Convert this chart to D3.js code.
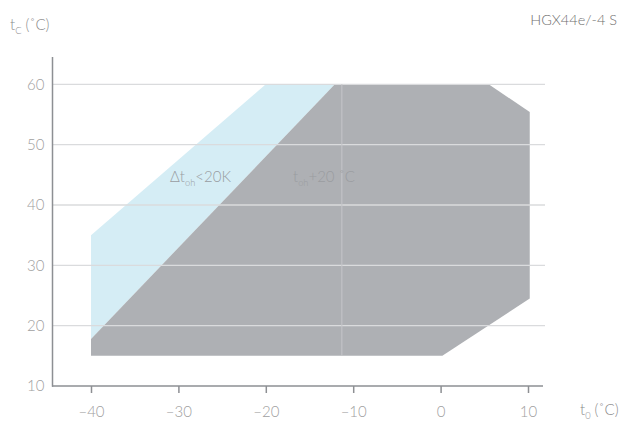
<!DOCTYPE html>
<html><head><meta charset="utf-8">
<script src="https://cdn.jsdelivr.net/npm/d3@7"></script>
<style>
body{margin:0;background:#fff;}
svg{display:block;font-family:Lato,"Open Sans",sans-serif;font-weight:300;}
</style></head>
<body><svg id="c" width="622" height="421"></svg>
<script>
// Data
const xTicks = [-40, -30, -20, -10, 0, 10];
const yTicks = [10, 20, 30, 40, 50, 60];
const blueEnvelope = [[-40, 17.8], [-40, 35], [-20, 60], [-12.1, 60]];
const grayEnvelope = [[-40, 15], [-40, 17.8], [-12.1, 60], [5.5, 60], [10.2, 55.4], [10.2, 24.5], [0.2, 15]];
const dividerX = -11.3;
const dividerY = [15, 60];
const title = "HGX44e/-4 S";

const svg = d3.select("#c");
const x = d3.scaleLinear().domain([-40, 10]).range([91, 528]);
const y = d3.scaleLinear().domain([10, 60]).range([386, 84.3]);

const line = d3.line().x(d => x(d[0])).y(d => y(d[1]));

svg.append("path").attr("d", line(blueEnvelope) + "Z").attr("fill", "#d5edf5");
svg.append("path").attr("d", line(grayEnvelope) + "Z").attr("fill", "#aeb0b4");

// gridlines
svg.append("g").selectAll("line").data(yTicks.filter(d => d > 10)).join("line")
  .attr("x1", 53).attr("x2", 545)
  .attr("y1", d => y(d)).attr("y2", d => y(d))
  .attr("stroke", "#dadbdd").attr("stroke-width", 1.3);

// divider line
svg.append("line")
  .attr("x1", x(dividerX)).attr("x2", x(dividerX))
  .attr("y1", y(dividerY[1])).attr("y2", y(dividerY[0]))
  .attr("stroke", "#c3c5c8").attr("stroke-width", 1.1);

// axes
const xAxis = d3.axisBottom(x).tickValues(xTicks).tickSize(7).tickPadding(13).tickFormat(d => d < 0 ? "\u2013" + Math.abs(d) : d);
const gx = svg.append("g").attr("transform", `translate(0,${y(10)})`).call(xAxis);
gx.select(".domain").remove();
gx.selectAll(".tick line").attr("stroke", "#8d8f93").attr("stroke-width", 1.5);
gx.selectAll(".tick text").attr("fill", "#a0a0a0").attr("font-size", 15).attr("font-family", "Lato, sans-serif").attr("font-weight", 300);

svg.append("line").attr("x1", 52).attr("x2", 543).attr("y1", y(10)).attr("y2", y(10))
  .attr("stroke", "#8d8f93").attr("stroke-width", 1.5);
svg.append("line").attr("x1", 52.5).attr("x2", 52.5).attr("y1", 57).attr("y2", y(10) + 0.75)
  .attr("stroke", "#8d8f93").attr("stroke-width", 1.5);

const yAxis = d3.axisLeft(y).tickValues(yTicks).tickSize(0).tickPadding(8);
const gy = svg.append("g").attr("transform", "translate(52.5,0)").call(yAxis);
gy.select(".domain").remove();
gy.selectAll(".tick text").attr("fill", "#a0a0a0").attr("font-size", 15).attr("font-family", "Lato, sans-serif").attr("font-weight", 300);

// titles
svg.append("text").attr("x", 617).attr("y", 25).attr("text-anchor", "end")
  .attr("fill", "#6f6f6f").attr("font-size", 14.5).text(title);

function subText(xp, yp, main, sub, rest, color, size) {
  const t = svg.append("text").attr("x", xp).attr("y", yp).attr("fill", color).attr("font-size", size);
  t.append("tspan").text(main);
  t.append("tspan").attr("dy", 4).attr("font-size", size * 0.62).text(sub);
  t.append("tspan").attr("dy", -4).text(rest);
}
subText(10, 30, "t", "C", " (\u02DAC)", "#8a8a8a", 15);
subText(580, 415, "t", "0", " (\u02DAC)", "#8a8a8a", 15);
subText(170, 182, "\u0394t", "oh", "<20K", "#989ca1", 15);
subText(293, 182, "t", "oh", "+20 \u02DAC", "#9a9ca0", 15);
</script></body></html>
